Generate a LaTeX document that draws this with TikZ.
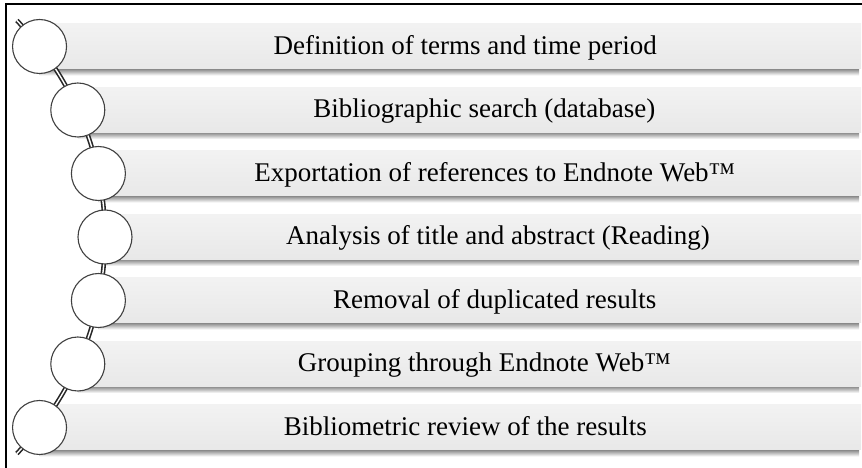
\documentclass[tikz,border=0pt]{standalone}
\usepackage{fontspec}
\setmainfont{Liberation Serif}
\begin{document}
\begin{tikzpicture}[x=1pt,y=1pt,
  frameline/.style={draw=black, line width=1.6pt},
  barshadow/.style={top color=black!50, bottom color=white},
  barbody/.style={top color=white!95!black, middle color=white, bottom color=black!9},
  chain/.style={draw=black!85, line width=1.6pt, double=white, double distance=1.4pt},
  bead/.style={circle, draw=black!75, line width=1.1pt, fill=white, minimum size=54pt, inner sep=0pt},
  steptext/.style={anchor=base, inner sep=0pt, font=\fontsize{27}{32}\selectfont}]
\useasboundingbox (0,0) rectangle (862,468);

% frame (top and left edges)
\draw[frameline] (862,464) -- (6,464) -- (6,0);

% bars with their drop shadows; each bar starts at its bead's centre
\foreach \k/\a in {1/37.92, 2/24.18, 3/11.82, 4/0, 5/-11.82, 6/-24.18, 7/-37.92}{
  \pgfmathsetmacro\yc{421.5-63.5*(\k-1)}
  \pgfmathsetmacro\xc{-205+310*cos(\a)}
  \shade[barshadow] (\xc,\yc-22) rectangle (859,\yc-29);
  \shade[barbody] (\xc,\yc+22.5) rectangle (861,\yc-22.5);
}

% the curved string the beads hang on
\draw[chain] (-205,231) ++(44.3:310) coordinate (top)
  arc[start angle=44.3, end angle=-44.3, radius=310] coordinate (bottom);

% beads and step labels
\foreach \k/\a/\txt in {
  1/37.92/{Definition of terms and time period},
  2/24.18/{Bibliographic search (database)},
  3/11.82/{Exportation of references to Endnote Web™},
  4/0/{Analysis of title and abstract (Reading)},
  5/-11.82/{Removal of duplicated results},
  6/-24.18/{Grouping through Endnote Web™},
  7/-37.92/{Bibliometric review of the results}}{
  \pgfmathsetmacro\yc{421.5-63.5*(\k-1)}
  \pgfmathsetmacro\xc{-205+310*cos(\a)}
  \pgfmathsetmacro\xt{(\xc+891)/2}
  \node[bead] (c\k) at (\xc,\yc) {};
  \node[steptext] (t\k) at (\xt,\yc-8) {\txt};
}
\end{tikzpicture}
\end{document}
